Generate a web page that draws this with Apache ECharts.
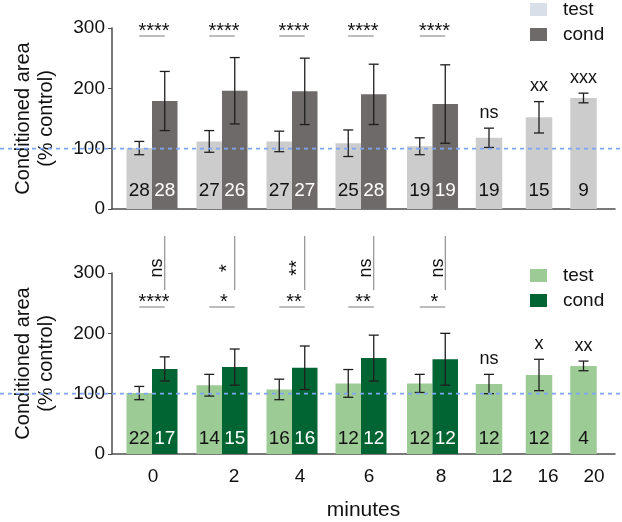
<!DOCTYPE html>
<html><head><meta charset="utf-8">
<script src="https://cdn.jsdelivr.net/npm/echarts@6/dist/echarts.min.js"></script>
<style>html,body{margin:0;padding:0;background:#fff}#c{width:622px;height:522px}</style>
</head><body><div id="c"></div>
<script>
// ---------- data ----------
const minutes = ['0', '2', '4', '6', '8', '12', '16', '20'];
const yTicks = [0, 100, 200, 300];

const topTest = [101, 112, 112, 109, 104, 118, 152, 184];
const topTestErr = [11, 18, 17, 22, 14, 16, 26, 8];
const topCond = [179, 196, 195, 190, 174];
const topCondErr = [49, 55, 55, 50, 65];
const topTestN = [28, 27, 27, 25, 19, 19, 15, 9];
const topCondN = [28, 26, 27, 28, 19];
const topPairSig = ['****', '****', '****', '****', '****'];
const topSingleSig = ['ns', 'xx', 'xxx'];

const botTest = [101, 114, 107, 117, 117, 116, 131, 146];
const botTestErr = [11, 18, 17, 23, 15, 16, 26, 8];
const botCond = [141, 144, 143, 159, 157];
const botCondErr = [20, 30, 36, 38, 43];
const botTestN = [22, 14, 16, 12, 12, 12, 12, 4];
const botCondN = [17, 15, 16, 12, 12];
const botPairSig = ['****', '*', '**', '**', '*'];
const botCrossSig = ['ns', '*', '**', 'ns', 'ns'];
const botSingleSig = ['ns', 'x', 'xx'];

const refLevel = 100;

// ---------- layout ----------
const FONT = '"Liberation Sans", Arial, Helvetica, sans-serif';
const GRID_W = 503;
const slotX = [40, 110, 180, 249, 320.5, 377, 427, 471.5];
const tickX = [41, 122, 188, 257, 329, 390, 436, 482];
const BAR_W = 25.5, SINGLE_W = 26.5;

const C = {
  topTest: '#cccccc', topCond: '#6e6a69', topLegTest: '#d8dfe9',
  botTest: '#9ccb96', botCond: '#006532',
  axis: '#4d4d4d', err: '#1e1e1e', sigLine: '#7a7a7a', ref: '#7fa6f3'
};

function barX(i, kind, nPairs) {
  if (i >= nPairs) return slotX[i];
  return slotX[i] + (kind === 'test' ? -BAR_W / 2 : BAR_W / 2);
}

function barSeries(name, g, vals, errs, ns, kind, color, txtColor, nOff, nPairs) {
  return {
    type: 'custom', name, xAxisIndex: g, yAxisIndex: g, z: 2,
    itemStyle: { color },
    data: vals.map((v, i) => [i, v, errs[i], ns[i]]),
    encode: { x: 0, y: 1 },
    renderItem(params, api) {
      const i = api.value(0), v = api.value(1), e = api.value(2), n = api.value(3);
      const cx = barX(i, kind, nPairs);
      const w = i >= nPairs ? SINGLE_W : BAR_W;
      const p = api.coord([cx, v]);
      const b = api.coord([cx, 0]);
      const hi = api.coord([cx, v + e]);
      const lo = api.coord([cx, v - e]);
      const pw = api.size([w, 0])[0];
      const cap = 5;
      return {
        type: 'group', children: [
          { type: 'rect', shape: { x: p[0] - pw / 2, y: p[1], width: pw, height: b[1] - p[1] }, style: { fill: color } },
          { type: 'line', shape: { x1: p[0], y1: hi[1], x2: p[0], y2: lo[1] }, style: { stroke: C.err, lineWidth: 1.3 } },
          { type: 'line', shape: { x1: p[0] - cap, y1: hi[1], x2: p[0] + cap, y2: hi[1] }, style: { stroke: C.err, lineWidth: 1.3 } },
          { type: 'line', shape: { x1: p[0] - cap, y1: lo[1], x2: p[0] + cap, y2: lo[1] }, style: { stroke: C.err, lineWidth: 1.3 } },
          { type: 'text', x: p[0], y: b[1] - nOff, style: { text: String(n), fill: txtColor, fontSize: 19, fontFamily: FONT, align: 'center', verticalAlign: 'middle' } }
        ]
      };
    }
  };
}

function sigFont(s) { return /\*/.test(s) ? 20 : 18; }

function pairSigSeries(g, sig, lineOff) {
  return {
    type: 'custom', xAxisIndex: g, yAxisIndex: g, z: 3, silent: true,
    data: sig.map((s, i) => [i, 300]),
    encode: { x: 0, y: 1 },
    renderItem(params, api) {
      const i = api.value(0);
      const a = api.coord([slotX[i] - BAR_W / 2, 300]);
      const bb = api.coord([slotX[i] + BAR_W / 2, 300]);
      const ly = a[1] + lineOff;
      return {
        type: 'group', children: [
          { type: 'line', shape: { x1: a[0], y1: ly, x2: bb[0], y2: ly }, style: { stroke: C.sigLine, lineWidth: 1 } },
          { type: 'text', x: (a[0] + bb[0]) / 2 + 2, y: ly - 5, style: { text: sig[i], fill: '#111', fontSize: sigFont(sig[i]), fontFamily: FONT, align: 'center', verticalAlign: 'middle' } }
        ]
      };
    }
  };
}

function crossSigSeries(g, sig) {
  return {
    type: 'custom', xAxisIndex: g, yAxisIndex: g, z: 3, silent: true,
    data: sig.map((s, i) => [i, 300]),
    encode: { x: 0, y: 1 },
    renderItem(params, api) {
      const i = api.value(0);
      const p = api.coord([slotX[i] + BAR_W / 2, 300]);
      return {
        type: 'group', children: [
          { type: 'line', shape: { x1: p[0], y1: p[1] - 37, x2: p[0], y2: p[1] + 17 }, style: { stroke: C.sigLine, lineWidth: 1 } },
          { type: 'text', x: p[0] - 7.5, y: p[1] - 5, rotation: Math.PI / 2, style: { text: sig[i], fill: '#111', fontSize: sigFont(sig[i]), fontFamily: FONT, align: 'center', verticalAlign: 'middle' } }
        ]
      };
    }
  };
}

function singleSigSeries(g, sig, vals, errs, first) {
  return {
    type: 'custom', xAxisIndex: g, yAxisIndex: g, z: 3, silent: true,
    data: sig.map((s, k) => [first + k, vals[first + k] + errs[first + k]]),
    encode: { x: 0, y: 1 },
    renderItem(params, api) {
      const i = api.value(0);
      const p = api.coord([slotX[i], api.value(1)]);
      return { type: 'text', x: p[0], y: p[1] - 15.5, style: { text: sig[i - first], fill: '#111', fontSize: 18, fontFamily: FONT, align: 'center', verticalAlign: 'middle' } };
    }
  };
}

function refSeries(g) {
  return {
    type: 'custom', xAxisIndex: g, yAxisIndex: g, z: 10, silent: true, clip: false,
    data: [[0, refLevel]],
    encode: { x: 0, y: 1 },
    renderItem(params, api) {
      const p = api.coord([0, api.value(1)]);
      return { type: 'line', shape: { x1: 0, y1: p[1], x2: api.getWidth(), y2: p[1] }, style: { stroke: C.ref, lineWidth: 1.6, lineDash: [4, 4] } };
    }
  };
}

const yAxisBase = (g) => ({
  type: 'value', gridIndex: g, min: yTicks[0], max: yTicks[yTicks.length - 1], interval: 100,
  axisLine: { show: true, lineStyle: { color: C.axis, width: 1.5 } },
  axisTick: { show: true, length: 4, lineStyle: { color: C.axis } },
  axisLabel: { fontSize: 19, color: '#111', fontFamily: FONT, margin: 7 },
  splitLine: { show: false },
  name: 'Conditioned area\n(% control)', nameLocation: 'middle', nameRotate: 90, nameGap: 54,
  nameTextStyle: { fontSize: 20, color: '#111', fontFamily: FONT, lineHeight: 23 }
});

const option = {
  animation: false,
  backgroundColor: '#fff',
  textStyle: { fontFamily: FONT },
  grid: [
    { left: 112, top: 28, width: GRID_W, height: 181 },
    { left: 112, top: 273, width: GRID_W, height: 181 }
  ],
  xAxis: [
    { type: 'value', gridIndex: 0, min: 0, max: GRID_W, axisLine: { show: true, lineStyle: { color: C.axis, width: 1.5 } }, axisTick: { show: false }, axisLabel: { show: false }, splitLine: { show: false } },
    { type: 'value', gridIndex: 1, min: 0, max: GRID_W, axisLine: { show: true, lineStyle: { color: C.axis, width: 1.5 } }, axisTick: { show: false },
      axisLabel: { show: true, customValues: tickX, formatter: (v) => minutes[tickX.indexOf(v)] ?? '', fontSize: 19, color: '#111', fontFamily: FONT, margin: 13 },
      splitLine: { show: false },
      name: 'minutes', nameLocation: 'middle', nameGap: 46, nameTextStyle: { fontSize: 21, color: '#111', fontFamily: FONT } }
  ],
  yAxis: [yAxisBase(0), yAxisBase(1)],
  legend: [
    { orient: 'vertical', left: 530, top: 0, padding: 0, itemWidth: 17, itemHeight: 13, itemGap: 6, selectedMode: false, icon: 'rect',
      textStyle: { fontSize: 19, color: '#111', fontFamily: FONT, padding: [0, 0, 0, 11] },
      data: [{ name: 'test', itemStyle: { color: C.topLegTest } }, { name: 'cond', itemStyle: { color: C.topCond } }] },
    { orient: 'vertical', left: 530, top: 266, padding: 0, itemWidth: 17, itemHeight: 13, itemGap: 6, selectedMode: false, icon: 'rect',
      textStyle: { fontSize: 19, color: '#111', fontFamily: FONT, padding: [0, 0, 0, 11] },
      data: [{ name: 'test', itemStyle: { color: C.botTest } }, { name: 'cond', itemStyle: { color: C.botCond } }] }
  ],
  series: [
    barSeries('test', 0, topTest, topTestErr, topTestN, 'test', C.topTest, '#111', 18, topCond.length),
    barSeries('cond', 0, topCond, topCondErr, topCondN, 'cond', C.topCond, '#fff', 18, topCond.length),
    barSeries('test', 1, botTest, botTestErr, botTestN, 'test', C.botTest, '#111', 15.5, botCond.length),
    barSeries('cond', 1, botCond, botCondErr, botCondN, 'cond', C.botCond, '#fff', 15.5, botCond.length),
    pairSigSeries(0, topPairSig, 8),
    pairSigSeries(1, botPairSig, 34),
    crossSigSeries(1, botCrossSig),
    singleSigSeries(0, topSingleSig, topTest, topTestErr, topCond.length),
    singleSigSeries(1, botSingleSig, botTest, botTestErr, botCond.length),
    refSeries(0),
    refSeries(1)
  ]
};

const chart = echarts.init(document.getElementById('c'), null, { renderer: 'canvas' });
chart.setOption(option);
</script>
</body></html>
